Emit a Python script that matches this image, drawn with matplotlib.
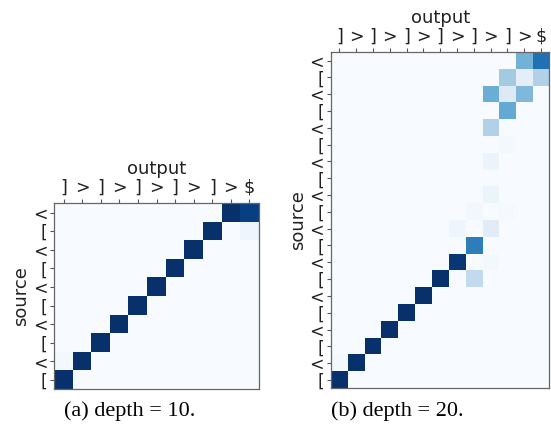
import matplotlib
matplotlib.use('Agg')
from matplotlib import pyplot as plt
import numpy as np

# tokens, bottom row first
src_a = ['[', '<', '[', '<', '[', '<', '[', '<', '[', '<']
out_a = [']', '>', ']', '>', ']', '>', ']', '>', ']', '>', '$']
src_b = ['[', '<'] * 10
out_b = [']', '>', ']', '>', ']', '>', ']', '>', ']', '>', ']', '>', '$']

# attention weights, rows = source position (bottom up), cols = output step
attn_a = [
    [1.00, 0, 0, 0, 0, 0, 0, 0, 0, 0, 0],
    [0.02, 1.00, 0, 0, 0, 0, 0, 0, 0, 0, 0],
    [0, 0, 1.00, 0, 0, 0, 0, 0, 0, 0, 0],
    [0, 0, 0, 1.00, 0, 0, 0, 0, 0, 0, 0],
    [0, 0, 0, 0, 1.00, 0, 0, 0, 0, 0, 0],
    [0, 0, 0, 0, 0, 1.00, 0, 0, 0, 0, 0],
    [0, 0, 0, 0, 0, 0, 1.00, 0, 0, 0, 0],
    [0, 0, 0, 0, 0, 0, 0, 1.00, 0, 0, 0],
    [0, 0, 0, 0, 0, 0, 0, 0, 1.00, 0, 0.04],
    [0, 0, 0, 0, 0, 0, 0, 0, 0, 1.00, 0.94],
]

attn_b = [
    [1.00, 0, 0, 0, 0, 0, 0, 0, 0, 0, 0, 0, 0],
    [0.02, 1.00, 0, 0, 0, 0, 0, 0, 0, 0, 0, 0, 0],
    [0, 0, 1.00, 0, 0, 0, 0, 0, 0, 0, 0, 0, 0],
    [0, 0, 0, 1.00, 0, 0, 0, 0, 0, 0, 0, 0, 0],
    [0, 0, 0, 0, 1.00, 0, 0, 0, 0, 0, 0, 0, 0],
    [0, 0, 0, 0, 0, 1.00, 0, 0, 0, 0, 0, 0, 0],
    [0, 0, 0, 0, 0, 0, 1.00, 0, 0.26, 0, 0, 0, 0],
    [0, 0, 0, 0, 0, 0, 0, 0.97, 0, 0.02, 0, 0, 0],
    [0, 0, 0, 0, 0, 0, 0, 0, 0.70, 0, 0, 0, 0],
    [0, 0, 0, 0, 0, 0, 0, 0.04, 0, 0.11, 0, 0, 0],
    [0, 0, 0, 0, 0, 0, 0, 0, 0.03, 0, 0.01, 0, 0],
    [0, 0, 0, 0, 0, 0, 0, 0, 0, 0.06, 0, 0, 0],
    [0, 0, 0, 0, 0, 0, 0, 0, 0, 0, 0, 0, 0],
    [0, 0, 0, 0, 0, 0, 0, 0, 0, 0.06, 0, 0, 0],
    [0, 0, 0, 0, 0, 0, 0, 0, 0, 0, 0.02, 0, 0],
    [0, 0, 0, 0, 0, 0, 0, 0, 0, 0.32, 0, 0, 0],
    [0, 0, 0, 0, 0, 0, 0, 0, 0, 0, 0.52, 0, 0],
    [0, 0, 0, 0, 0, 0, 0, 0, 0, 0.50, 0.13, 0.45, 0],
    [0, 0, 0, 0, 0, 0, 0, 0, 0, 0, 0.36, 0.10, 0.32],
    [0, 0, 0, 0, 0, 0, 0, 0, 0, 0, 0, 0.48, 0.75],
]

W, H = 551, 429
fig = plt.figure(figsize=(W / 100, H / 100), dpi=100)


def panel(rect, attn, src, out):
    x0, y0, x1, y1 = rect  # pixel box, measured from top-left
    ax = fig.add_axes([x0 / W, 1 - y1 / H, (x1 - x0) / W, (y1 - y0) / H])
    ax.imshow(np.array(attn), cmap='Blues', vmin=0, vmax=1,
              origin='lower', aspect='auto', interpolation='nearest')
    ax.xaxis.tick_top()
    ax.xaxis.set_label_position('top')
    ax.set_xticks(range(len(out)))
    ax.set_xticklabels(out)
    ax.set_yticks(range(len(src)))
    ax.set_yticklabels(src)
    ax.tick_params(labelsize=12.5, length=3, width=0.8, color='#555555',
                   labelcolor='#222222', pad=2)
    ax.set_xlabel('output', fontsize=13, labelpad=3, color='#222222')
    ax.set_ylabel('source', fontsize=13, labelpad=2, color='#222222')
    for s in ax.spines.values():
        s.set_color('#666666')
        s.set_linewidth(0.9)
    return ax


panel((54.3, 203.3, 258.7, 389.3), attn_a, src_a, out_a)
panel((331, 52.3, 549.3, 388.3), attn_b, src_b, out_b)

fig.text(129.5 / W, 1 - 411 / H, '(a) depth = 10.', family='Liberation Serif',
         fontsize=16, ha='center', va='center')
fig.text(397 / W, 1 - 411 / H, '(b) depth = 20.', family='Liberation Serif',
         fontsize=16, ha='center', va='center')

fig.savefig('out.png', dpi=100)
